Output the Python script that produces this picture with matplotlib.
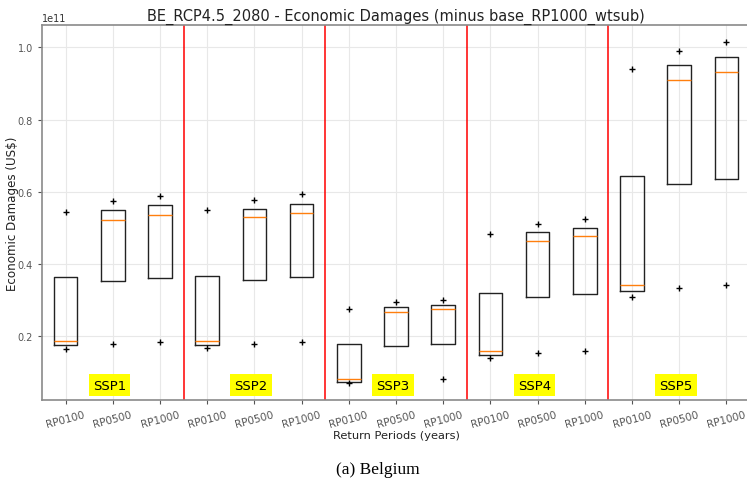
import numpy as np
import matplotlib
matplotlib.use("Agg")
import matplotlib.pyplot as plt

# ========= DATA (units of 1e11 US$) =========
SCENARIOS = ["SSP1", "SSP2", "SSP3", "SSP4", "SSP5"]
RETURN_PERIODS = ["RP0100", "RP0500", "RP1000"]

# per box, order: SSP1 RP0100, RP0500, RP1000, SSP2 ..., SSP5 RP1000
Q1 = [0.174, 0.351, 0.361, 0.174, 0.354, 0.363, 0.073, 0.171, 0.176,
      0.147, 0.307, 0.315, 0.325, 0.620, 0.635]
Q3 = [0.363, 0.549, 0.563, 0.367, 0.553, 0.566, 0.178, 0.280, 0.286,
      0.318, 0.487, 0.498, 0.642, 0.951, 0.973]
MEDIAN = [0.185, 0.522, 0.535, 0.185, 0.530, 0.540, 0.080, 0.266, 0.273,
          0.157, 0.464, 0.476, 0.342, 0.909, 0.931]
FLIER_HI = [0.543, 0.573, 0.587, 0.548, 0.578, 0.592, 0.275, 0.293, 0.300,
            0.481, 0.509, 0.523, 0.940, 0.991, 1.015]
FLIER_LO = [0.163, 0.178, 0.182, 0.166, 0.178, 0.184, 0.069, None, 0.080,
            0.138, 0.152, 0.157, 0.307, 0.332, 0.342]

SCALE = 1e11
TITLE = "BE_RCP4.5_2080 - Economic Damages (minus base_RP1000_wtsub)"


def build_stats():
    stats = []
    for i in range(len(Q1)):
        fl = [FLIER_HI[i]] + ([FLIER_LO[i]] if FLIER_LO[i] is not None else [])
        stats.append({
            "q1": Q1[i] * SCALE, "q3": Q3[i] * SCALE, "med": MEDIAN[i] * SCALE,
            "whislo": Q1[i] * SCALE, "whishi": Q3[i] * SCALE,
            "fliers": np.array(fl) * SCALE,
        })
    return stats


def main():
    fig = plt.figure(figsize=(7.47, 4.85), dpi=100)
    ax = fig.add_axes([42 / 747, 84 / 485, 708 / 747, 375 / 485])

    positions = np.arange(1, len(Q1) + 1)
    ax.bxp(build_stats(), positions=positions, widths=0.5, showcaps=False,
           boxprops=dict(color="#222222", linewidth=1.0),
           whiskerprops=dict(color="#222222", linewidth=1.0),
           medianprops=dict(color="#ff7f0e", linewidth=1.0),
           flierprops=dict(marker="+", markeredgecolor="black",
                           markersize=5, linewidth=0))

    n_rp = len(RETURN_PERIODS)
    for k in range(1, len(SCENARIOS)):
        ax.axvline(k * n_rp + 0.5, color="red", linewidth=1.3, alpha=0.85)

    for k, name in enumerate(SCENARIOS):
        ax.text(k * n_rp + 2 - 0.07, 0.063 * SCALE, name, ha="center",
                va="center", fontsize=9.5, zorder=5,
                bbox=dict(facecolor="yellow", edgecolor="none", pad=3))

    ax.set_xlim(0.5, len(Q1) + 0.5)
    ax.set_xticks(positions)
    ax.set_xticklabels(RETURN_PERIODS * len(SCENARIOS), rotation=15,
                       fontsize=7.5, color="#333333")
    ax.set_yticks(np.array([0.2, 0.4, 0.6, 0.8, 1.0]) * SCALE)
    ax.tick_params(axis="y", labelsize=7, labelcolor="#333333")
    ax.tick_params(colors="#555555", length=3)
    ax.yaxis.get_offset_text().set_fontsize(7)
    ax.yaxis.get_offset_text().set_color("#333333")

    ax.grid(True, color="#e8e8e8", linewidth=0.8)
    ax.set_axisbelow(True)
    for side in ["left", "bottom", "top"]:
        ax.spines[side].set_color("#8a8a8a")
        ax.spines[side].set_linewidth(1.2)
    ax.spines["right"].set_visible(False)

    ax.set_title(TITLE, fontsize=10.5, color="#222222", pad=4)
    ax.set_xlabel("Return Periods (years)", fontsize=8.2, color="#222222",
                  labelpad=1)
    ax.set_ylabel(r"Economic Damages (US\$)", fontsize=8.6, color="#222222",
                  labelpad=-1)

    fig.text(378 / 747, 1 - 470 / 485, "(a) Belgium", ha="center",
             va="center", fontsize=12.5, family="Liberation Serif")

    fig.savefig("out.png", dpi=100)
    plt.close(fig)


if __name__ == "__main__":
    main()
